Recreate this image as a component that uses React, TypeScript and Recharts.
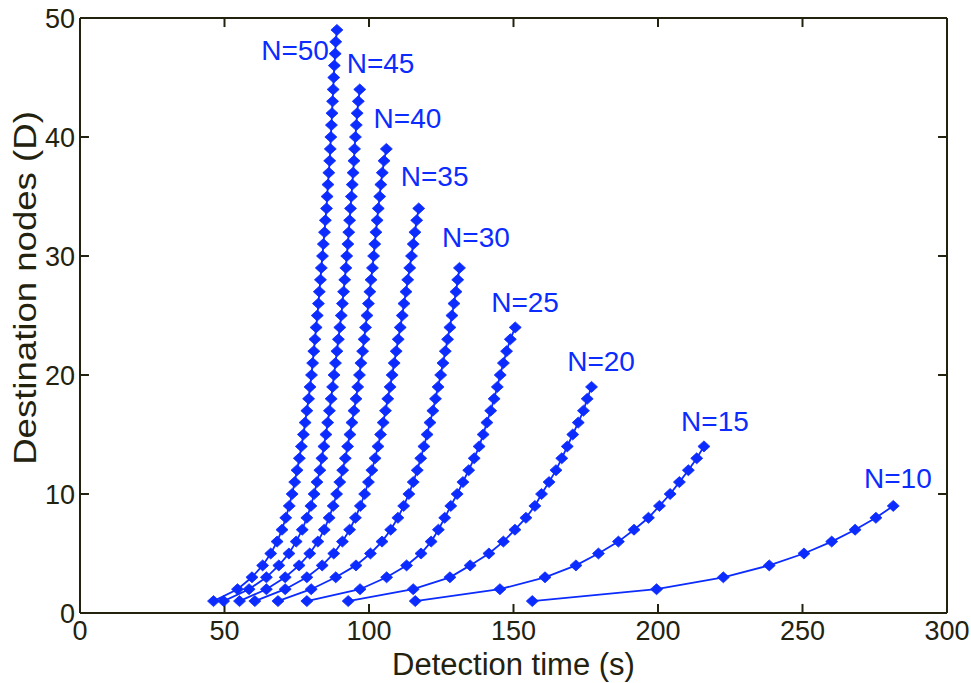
import { LineChart, Line, XAxis, YAxis, ReferenceDot, ReferenceLine, Label } from "recharts";

// axis ticks
const X_TICKS = [0, 50, 100, 150, 200, 250, 300];
const Y_TICKS = [0, 10, 20, 30, 40, 50];

// detection time (s) for D = 1 .. N-1
const T_N10 = [156.5, 199.5, 222.6, 238.5, 250.5, 260.1, 268.2, 275.4, 281.4];
const T_N15 = [116, 145.3, 160.9, 171.6, 179.4, 186.3, 191.7, 196.7, 200.5, 204.2, 207.4, 210.5, 213.4, 215.9];
const T_N20 = [92.8, 115.3, 128, 135, 141.5, 146.5, 150.5, 154.3, 157.4, 159.7, 162.3, 164.7, 166.7, 168.6, 170.5, 172.4, 174.2, 175.5, 177];
const T_N25 = [78.5, 96.9, 106.1, 113, 118, 121.5, 124, 126.2, 128.3, 130.5, 132.5, 134.5, 136.4, 138.1, 139.5, 140.8, 142.1, 143.3, 144.4, 145.4, 146.5, 147.6, 148.9, 150.6];
const T_N30 = [68.5, 80, 88.5, 95.5, 100.5, 104.5, 107.5, 110, 112, 113.8, 115.3, 116.7, 117.9, 119, 120.1, 121.1, 122.1, 123, 123.9, 124.8, 125.6, 126.4, 127.2, 128, 128.7, 129.4, 130.1, 130.7, 131.3];
const T_N35 = [60.5, 71, 78.5, 83.8, 87.8, 90.8, 93.3, 95.3, 97, 98.5, 99.8, 101, 102.1, 103.1, 104, 104.9, 105.7, 106.5, 107.3, 108, 108.7, 109.4, 110.1, 110.8, 111.5, 112.1, 112.8, 113.4, 114.1, 114.7, 115.3, 115.9, 116.5, 117.2];
const T_N40 = [55.2, 64.5, 71, 75.8, 79.5, 82.3, 84.5, 86.2, 87.6, 88.8, 89.9, 90.9, 91.8, 92.6, 93.4, 94.1, 94.8, 95.5, 96.1, 96.7, 97.2, 97.8, 98.3, 98.8, 99.3, 99.8, 100.3, 100.7, 101.2, 101.6, 102, 102.4, 102.8, 103.2, 103.7, 104.1, 104.6, 105.2, 106];
const T_N45 = [49.7, 58.5, 64.5, 68.8, 72.3, 74.8, 76.9, 78.5, 79.9, 81, 82, 83, 83.7, 84.4, 85.1, 85.7, 86.3, 86.9, 87.4, 87.9, 88.4, 88.9, 89.4, 89.9, 90.4, 90.8, 91.2, 91.6, 92, 92.3, 92.7, 93, 93.3, 93.6, 93.9, 94.2, 94.5, 94.8, 95, 95.3, 95.6, 95.9, 96.3, 96.8];
const T_N50 = [46.2, 54.5, 59.5, 63.2, 66, 68.2, 69.9, 71.2, 72.4, 73.4, 74.3, 75.1, 75.9, 76.6, 77.3, 77.9, 78.5, 79.1, 79.6, 80.1, 80.5, 80.9, 81.3, 81.7, 82.1, 82.5, 82.8, 83.2, 83.5, 83.9, 84.2, 84.6, 84.9, 85.3, 85.5, 85.8, 86.1, 86.4, 86.6, 86.8, 87, 87.2, 87.4, 87.6, 87.8, 88, 88.3, 88.5, 88.9];

const SERIES_NAMES = ["N=50", "N=45", "N=40", "N=35", "N=30", "N=25", "N=20", "N=15", "N=10"];
const SERIES_TIMES = [T_N50, T_N45, T_N40, T_N35, T_N30, T_N25, T_N20, T_N15, T_N10];

// where each curve's name sits, in data units (time, D)
const LABEL_AT: [number, number][] = [
  [74.4, 47.3], [104, 46.2], [113.3, 41.6], [122.7, 36.7], [137, 31.6],
  [154, 26.1], [180.3, 21.2], [219.7, 16.1], [283, 11.3],
];

const BLUE = "#0b2bff";
const INK = "#23220f";
const FONT = '"Liberation Sans", Arial, Helvetica, sans-serif';
// inward tick length expressed in axis units (~9px)
const TICK_DX = 3.1;
const TICK_DY = 0.76;

const toPoints = (times: number[]) => times.map((t, i) => ({ t, d: i + 1 }));

// MATLAB-ish diamond marker
const Diamond = ({ cx, cy }: any) => {
  if (cx == null || cy == null) return null;
  return (
    <polygon
      points={`${cx - 6},${cy} ${cx},${cy - 5.5} ${cx + 6},${cy} ${cx},${cy + 5.5}`}
      fill={BLUE}
      stroke={BLUE}
      strokeWidth={0.8}
    />
  );
};

const YTitle = () => (
  <text
    x={0}
    y={0}
    transform="translate(25 288) rotate(-90) scale(1.18 1)"
    textAnchor="middle"
    dominantBaseline="central"
    fontSize={31}
    fill={INK}
    fontFamily={FONT}
  >
    Destination nodes (D)
  </text>
);

export default function App() {
  const axisLine = { stroke: INK, strokeWidth: 2 };
  const tickStyle = { fill: INK, fontSize: 27, fontFamily: FONT };
  const tickMark = { stroke: INK, strokeWidth: 2 };
  return (
    <div style={{ position: "absolute", left: 0, top: 0, background: "#fff" }}>
      <LineChart
        width={971}
        height={683}
        margin={{ top: 17, right: 23, left: 0, bottom: 0 }}
      >
        <XAxis
          dataKey="t"
          type="number"
          domain={[0, 300]}
          ticks={X_TICKS}
          interval={0}
          height={70}
          tickSize={0}
          tickMargin={8}
          axisLine={axisLine}
          tickLine={false}
          tick={tickStyle}
        >
          <Label
            value="Detection time (s)"
            position="insideBottom"
            offset={8}
            fill={INK}
            fontSize={31}
            fontFamily={FONT}
          />
        </XAxis>
        <XAxis
          xAxisId="top"
          orientation="top"
          type="number"
          domain={[0, 300]}
          ticks={X_TICKS}
          height={1}
          tick={false}
          tickLine={false}
          axisLine={axisLine}
        />
        <YAxis
          dataKey="d"
          type="number"
          domain={[0, 50]}
          ticks={Y_TICKS}
          interval={0}
          width={80}
          tickSize={0}
          tickMargin={5}
          axisLine={axisLine}
          tickLine={false}
          tick={tickStyle}
          label={<YTitle />}
        />
        <YAxis
          yAxisId="right"
          orientation="right"
          type="number"
          domain={[0, 50]}
          ticks={Y_TICKS}
          width={1}
          tick={false}
          tickLine={false}
          axisLine={axisLine}
        />
        {/* inward tick marks on all four sides */}
        {X_TICKS.slice(1, -1).map((v) => (
          <ReferenceLine
            key={`xb${v}`}
            segment={[{ x: v, y: 0 }, { x: v, y: TICK_DY }]}
            {...tickMark}
          />
        ))}
        {X_TICKS.slice(1, -1).map((v) => (
          <ReferenceLine
            key={`xt${v}`}
            segment={[{ x: v, y: 50 - TICK_DY }, { x: v, y: 50 }]}
            {...tickMark}
          />
        ))}
        {Y_TICKS.slice(1, -1).map((v) => (
          <ReferenceLine
            key={`yl${v}`}
            segment={[{ x: 0, y: v }, { x: TICK_DX, y: v }]}
            {...tickMark}
          />
        ))}
        {Y_TICKS.slice(1, -1).map((v) => (
          <ReferenceLine
            key={`yr${v}`}
            segment={[{ x: 300 - TICK_DX, y: v }, { x: 300, y: v }]}
            {...tickMark}
          />
        ))}
        {SERIES_TIMES.map((times, i) => (
          <Line
            key={SERIES_NAMES[i]}
            data={toPoints(times)}
            dataKey="d"
            stroke={BLUE}
            strokeWidth={1.8}
            dot={(p: any) => <Diamond key={`${i}-${p.index}`} {...p} />}
            activeDot={false}
            isAnimationActive={false}
          />
        ))}
        {SERIES_NAMES.map((name, i) => (
          <ReferenceDot
            key={name}
            x={LABEL_AT[i][0]}
            y={LABEL_AT[i][1]}
            r={0}
            stroke="none"
            label={{
              value: name,
              position: "center",
              fill: BLUE,
              fontSize: 28,
              fontFamily: FONT,
            }}
          />
        ))}
      </LineChart>
    </div>
  );
}
